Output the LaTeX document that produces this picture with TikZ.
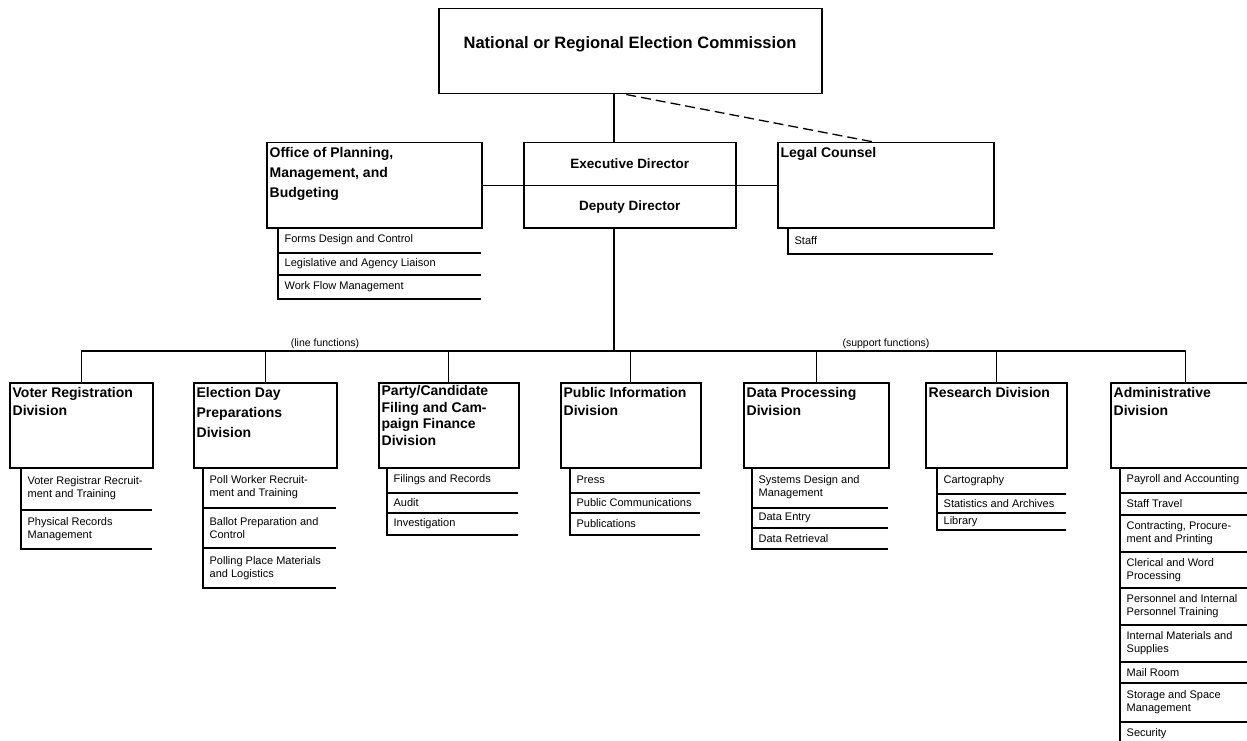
\documentclass[tikz,border=0pt]{standalone}
\usepackage{fontspec}
\setmainfont{Liberation Sans}
\usetikzlibrary{calc,positioning}

% rows under a box: name, x of the rule, right end, top/bottom/text
\newcommand\sublist[4]{%
  \foreach \ytop/\ybot/\txt [count=\i] in {#4}{
    \draw[rowline] (#2,\ytop) -- (#2,\ybot) -- (#3,\ybot);
    \node[item] (#1-\i) at (#2+6,{(\ytop+\ybot)/2}) {\txt};
  }}

\begin{document}
\begin{tikzpicture}[x=1pt,y=-1pt,line width=1.3pt,
    box/.style={draw,line width=1.5pt,anchor=north west,inner sep=0pt,minimum height=85pt},
    head/.style={anchor=north west,align=left,inner xsep=3pt,inner ysep=5pt,
      font=\bfseries\fontsize{14}{18}\selectfont},
    mid/.style={font=\bfseries\fontsize{13.5}{16}\selectfont},
    item/.style={anchor=west,align=left,inner sep=0pt,font=\fontsize{11}{13}\selectfont},
    rowline/.style={line width=1.3pt},
    fnlabel/.style={anchor=south,inner sep=1.5pt,font=\fontsize{10.5}{12}\selectfont}]
  \clip (0,0) rectangle (1247,741);

  % commission and directors
  \node[box,minimum width=383pt] (nec) at (438,8) {};
  \node[font=\bfseries\fontsize{16.5}{19}\selectfont] (nec-t) at (630,44)
    {National or Regional Election Commission};
  \node[box,minimum width=212pt] (exec) at (523,142) {};
  \draw (exec.west) -- (exec.east);
  \node[mid] (exec-t) at ($(exec.north)!0.5!(exec.center)$) {Executive Director};
  \node[mid] (dep-t) at ($(exec.south)!0.5!(exec.center)$) {Deputy Director};
  \node[box,minimum width=215pt] (office) at (266,142) {};
  \node[head,font=\bfseries\fontsize{14}{20}\selectfont] (office-t) at (office.north west)
    {Office of Planning,\\Management, and\\Budgeting};
  \node[box,minimum width=216pt] (legal) at (777,142) {};
  \node[head] (legal-t) at (legal.north west) {Legal Counsel};

  \coordinate (drop) at (614,0);
  \coordinate (bus) at (0,351);
  \draw (nec.south -| drop) -- (exec.north -| drop);
  \draw[dash pattern=on 10pt off 5pt] ([xshift=-4pt]nec.south) -- ([xshift=-12pt]legal.north);
  \draw (office.east) -- (exec.west);
  \draw (exec.east) -- (legal.west);

  \sublist{office}{278}{481}{227/253/Forms Design and Control,
    253/275/Legislative and Agency Liaison, 275/299/Work Flow Management}
  \sublist{legal}{788}{993}{227/254/Staff}

  % divisions
  \node[box,minimum width=143pt] (voter) at (9,382) {};
  \node[box,minimum width=143pt] (elec) at (193,382) {};
  \node[box,minimum width=140pt] (party) at (378,382) {};
  \node[box,minimum width=140pt] (pubinfo) at (560,382) {};
  \node[box,minimum width=145pt] (dataproc) at (743,382) {};
  \node[box,minimum width=141pt] (research) at (925,382) {};
  \node[box,minimum width=150pt] (admin) at (1110,382) {};

  \node[head] (voter-t) at (voter.north west) {Voter Registration\\Division};
  \node[head,font=\bfseries\fontsize{14}{20}\selectfont] (elec-t) at (elec.north west)
    {Election Day\\Preparations\\Division};
  \node[head,inner ysep=3pt,font=\bfseries\fontsize{14}{16.5}\selectfont] (party-t) at (party.north west)
    {Party/Candidate\\Filing and Cam-\\paign Finance\\Division};
  \node[head] (pubinfo-t) at (pubinfo.north west) {Public Information\\Division};
  \node[head] (dataproc-t) at (dataproc.north west) {Data Processing\\Division};
  \node[head] (research-t) at (research.north west) {Research Division};
  \node[head] (admin-t) at (admin.north west) {Administrative\\Division};

  \draw (exec.south -| drop) -- (drop |- bus);
  \draw (voter.north |- bus) -- (admin.north |- bus);
  \foreach \d in {voter,elec,party,pubinfo,dataproc,research,admin}
    \draw (\d.north |- bus) -- (\d.north);
  \node[fnlabel] (linefn) at (325,351) {(line functions)};
  \node[fnlabel] (suppfn) at (886,351) {(support functions)};

  \sublist{voter}{21}{152}{467/510/{Voter Registrar Recruit-\\ment and Training},
    510/549/{Physical Records\\Management}}
  \sublist{elec}{203}{336}{467/508/{Poll Worker Recruit-\\ment and Training},
    508/548/{Ballot Preparation and\\Control}, 548/588/{Polling Place Materials\\and Logistics}}
  \sublist{party}{387}{518}{467/493/Filings and Records, 493/513/Audit, 513/535/Investigation}
  \sublist{pubinfo}{570}{700}{467/493/Press, 493/513/Public Communications, 513/535/Publications}
  \sublist{dataproc}{752}{888}{467/508/{Systems Design and\\Management},
    508/528/Data Entry, 528/549/Data Retrieval}
  \sublist{research}{937}{1066}{467/494/Cartography, 494/513/Statistics and Archives,
    513/530/Library}
  \sublist{admin}{1120}{1260}{467/493/Payroll and Accounting, 493/515/Staff Travel,
    515/552/{Contracting, Procure-\\ment and Printing}, 552/588/{Clerical and Word\\Processing},
    588/625/{Personnel and Internal\\Personnel Training}, 625/662/{Internal Materials and\\Supplies},
    662/683/Mail Room, 683/722/{Storage and Space\\Management}, 722/746/Security}
\end{tikzpicture}
\end{document}
